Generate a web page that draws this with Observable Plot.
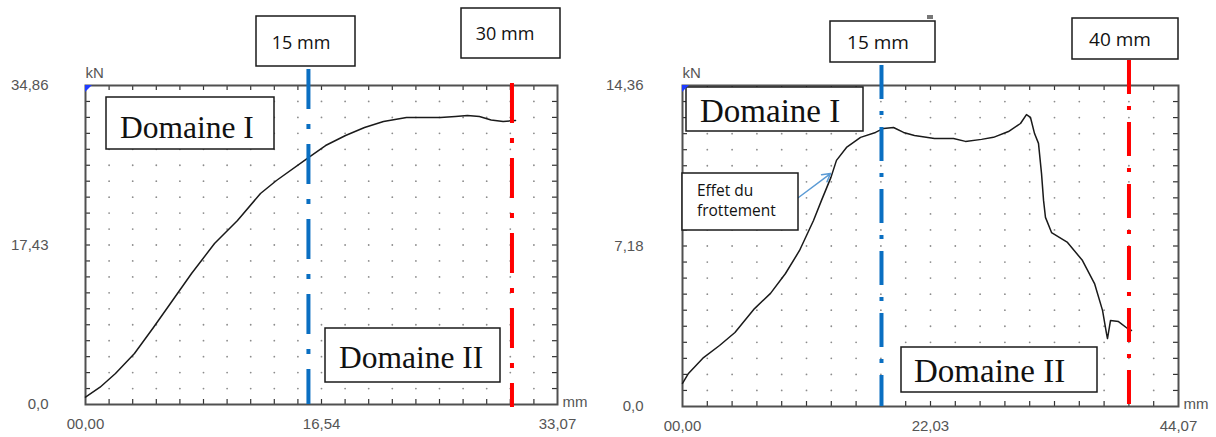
<!DOCTYPE html>
<html><head><meta charset="utf-8">
<script src="https://cdn.jsdelivr.net/npm/d3@7"></script>
<script src="https://cdn.jsdelivr.net/npm/@observablehq/plot@0.6"></script>
<style>
body{margin:0;background:#fff;}
#wrap{position:relative;width:1216px;height:437px;overflow:hidden;background:#fff;}
#left,#right{position:absolute;top:0;}
#left{left:0;} #right{left:600px;}
#ann{position:absolute;left:0;top:0;pointer-events:none;}
</style></head><body>
<div id="wrap"><div id="left"></div><div id="right"></div>
<svg id="ann" width="1216" height="437"></svg></div>
<script>
// ---------- Left test (domain 0–33.07 mm, 0–34.86 kN) ----------
const leftXMax = 33.07;
const leftYMax = 34.86;
const leftXTicks = [0, 16.54, 33.07];
const leftXTickLabels = ["00,00", "16,54", "33,07"];
const leftYTicks = [0, 17.43, 34.86];
const leftYTickLabels = ["0,0", "17,43", "34,86"];
const leftDisp = [0, 1.02, 2.10, 3.43, 4.76, 5.85, 7.43, 9.04, 10.65, 12.26, 13.38, 15.62, 16.82, 18.22, 19.55, 20.88, 22.49, 23.70, 24.87, 25.92, 26.76, 27.60, 28.42, 29.26, 30.13];
const leftLoad = [0.80, 1.89, 3.39, 5.57, 8.41, 10.82, 14.32, 17.59, 20.11, 23.06, 24.48, 26.99, 28.30, 29.40, 30.27, 30.93, 31.36, 31.36, 31.36, 31.47, 31.58, 31.47, 31.10, 30.93, 31.04];
const leftMarkers = [15.62, 29.88];
const leftMarkerLabels = ["15 mm", "30 mm"];

// ---------- Right test (domain 0–44.07 mm, 0–14.36 kN) ----------
const rightXMax = 44.07;
const rightYMax = 14.36;
const rightXTicks = [0, 22.03, 44.07];
const rightXTickLabels = ["00,00", "22,03", "44,07"];
const rightYTicks = [0, 7.18, 14.36];
const rightYTickLabels = ["0,0", "7,18", "14,36"];
const rightDisp = [0, 0.53, 1.87, 3.29, 4.66, 6.40, 7.82, 9.15, 10.40, 11.64, 12.35, 13.19, 13.68, 14.57, 15.82, 17.15, 17.86, 18.75, 19.64, 20.61, 22.39, 24.08, 25.14, 26.57, 27.63, 28.96, 30.03, 30.56, 30.92, 31.28, 31.63, 31.90, 32.08, 32.25, 32.79, 34.21, 35.54, 36.61, 37.32, 37.67, 37.76, 38.03, 38.74, 39.54, 39.89];
const rightLoad = [1.03, 1.48, 2.19, 2.73, 3.31, 4.38, 5.06, 5.95, 6.98, 8.32, 9.22, 10.25, 11.01, 11.59, 12.04, 12.26, 12.44, 12.48, 12.26, 12.12, 11.99, 11.99, 11.86, 11.95, 12.04, 12.30, 12.66, 13.06, 12.93, 12.21, 11.77, 10.42, 9.22, 8.46, 7.78, 7.34, 6.53, 5.50, 4.30, 3.27, 3.04, 3.85, 3.80, 3.49, 3.40];
const rightMarkers = [17.68, 39.67];
const rightMarkerLabels = ["15 mm", "40 mm"];
const frictionArrowFrom = [10.31, 9.35];
const frictionArrowTo = [13.15, 10.42];

const blue = "#0a6fc2", red = "#ff0000";

function chart(o) {
  const H = 437, mT = 85;
  const pw = o.width - o.mL - o.mR, ph = H - mT - o.mB;
  const xInner = d3.range(1, 20).map(i => i * o.xMax / 20);
  const yInner = d3.range(1, 20).map(i => i * o.yMax / 20);
  const grid = [];
  for (const x of xInner) for (const y of yInner) grid.push({x, y});
  const tx = o.xMax * 5 / pw, ty = o.yMax * 5 / ph;
  const xl = new Map(o.xTicks.map((v, i) => [v, o.xLabels[i]]));
  const yl = new Map(o.yTicks.map((v, i) => [v, o.yLabels[i]]));
  const pts = o.disp.map((x, i) => ({x, y: o.load[i]}));
  const marks = [
    Plot.dot(grid, {x: "x", y: "y", r: 0.9, fill: "#8c8c8c"}),
    Plot.ruleX(xInner, {x: d => d, y1: o.yMax, y2: o.yMax - ty, stroke: "#333", strokeWidth: 1.2}),
    Plot.ruleX(xInner, {x: d => d, y1: 0, y2: ty, stroke: "#333", strokeWidth: 1.2}),
    Plot.ruleY(yInner, {y: d => d, x1: 0, x2: tx, stroke: "#333", strokeWidth: 1.2}),
    Plot.ruleY(yInner, {y: d => d, x1: o.xMax, x2: o.xMax - tx, stroke: "#333", strokeWidth: 1.2}),
    Plot.frame({stroke: "#505050", strokeWidth: 2}),
    Plot.line(pts, {x: "x", y: "y", stroke: "#1a1a1a", strokeWidth: 1.5}),
    Plot.ruleX([o.markers[0]], {x: d => d, stroke: blue, strokeWidth: 4, strokeDasharray: o.dash, insetTop: o.blueTop}),
    Plot.ruleX([o.markers[1]], {x: d => d, stroke: red, strokeWidth: 4, strokeDasharray: o.dash, insetTop: o.redTop, insetBottom: -3}),
    Plot.axisX(o.xTicks, {tickSize: 0, tickPadding: 14, tickFormat: d => xl.get(d), label: null, fontSize: 15, fill: "#555"}),
    Plot.axisY(o.yTicks, {tickSize: 0, tickPadding: o.yPad, tickFormat: d => yl.get(d), label: null, fontSize: 15, fill: "#555"}),
    Plot.text(["kN"], {frameAnchor: "top-left", text: d => d, textAnchor: "start", lineAnchor: "middle", dy: -12, fontSize: 15, fill: "#555"}),
    Plot.text(["mm"], {frameAnchor: "bottom-right", text: d => d, textAnchor: "start", lineAnchor: "middle", dx: 5, dy: -2, fontSize: 15, fill: "#555"})
  ];
  if (o.arrow) marks.push(Plot.arrow([o.arrow], {x1: d => d[0][0], y1: d => d[0][1], x2: d => d[1][0], y2: d => d[1][1], stroke: "#5b9bd5", strokeWidth: 1.5, headLength: 9}));
  return Plot.plot({
    width: o.width, height: H,
    marginLeft: o.mL, marginRight: o.mR, marginTop: mT, marginBottom: o.mB,
    x: {domain: [0, o.xMax], axis: null},
    y: {domain: [0, o.yMax], axis: null},
    style: {fontFamily: "'Liberation Sans', Arial, sans-serif", fontSize: "15px", color: "#555", background: "transparent", overflow: "visible"},
    marks
  });
}

document.getElementById("left").append(chart({
  width: 600, mL: 85, mR: 43, mB: 33,
  xMax: leftXMax, yMax: leftYMax, xTicks: leftXTicks, xLabels: leftXTickLabels,
  yTicks: leftYTicks, yLabels: leftYTickLabels, disp: leftDisp, load: leftLoad,
  markers: leftMarkers, dash: "40,15,5,15", blueTop: -16, redTop: -2, yPad: 37
}));
document.getElementById("right").append(chart({
  width: 616, mL: 82, mR: 38, mB: 31,
  xMax: rightXMax, yMax: rightYMax, xTicks: rightXTicks, xLabels: rightXTickLabels,
  yTicks: rightYTicks, yLabels: rightYTickLabels, disp: rightDisp, load: rightLoad,
  markers: rightMarkers, dash: "34,12,4,12", blueTop: -20, redTop: -25, yPad: 39,
  arrow: [frictionArrowFrom, frictionArrowTo]
}));

// ---------- Annotation layer (text boxes) ----------
const ann = d3.select("#ann");
const boxes = [
  {x: 256, y: 16, w: 99, h: 50, text: leftMarkerLabels[0], tx: 301, ty: 49, anchor: "middle", font: "'Open Sans', sans-serif", size: 18},
  {x: 461, y: 8, w: 99, h: 50, text: leftMarkerLabels[1], tx: 505, ty: 39.5, anchor: "middle", font: "'Open Sans', sans-serif", size: 18},
  {x: 106, y: 97, w: 168, h: 52, text: "Domaine I", tx: 120, ty: 137.5, anchor: "start", font: "'Liberation Serif', 'Times New Roman', serif", size: 31.5},
  {x: 325, y: 328, w: 175, h: 54, text: "Domaine II", tx: 339, ty: 368, anchor: "start", font: "'Liberation Serif', 'Times New Roman', serif", size: 31.5},
  {x: 830, y: 21, w: 105, h: 41, text: rightMarkerLabels[0], tx: 878, ty: 48.5, anchor: "middle", font: "'Open Sans', sans-serif", size: 19},
  {x: 1072, y: 18, w: 106, h: 41, text: rightMarkerLabels[1], tx: 1120, ty: 46, anchor: "middle", font: "'Open Sans', sans-serif", size: 19},
  {x: 686, y: 87, w: 177, h: 44, text: "Domaine I", tx: 700, ty: 122, anchor: "start", font: "'Liberation Serif', 'Times New Roman', serif", size: 33},
  {x: 901, y: 347, w: 196, h: 45, text: "Domaine II", tx: 914, ty: 381.5, anchor: "start", font: "'Liberation Serif', 'Times New Roman', serif", size: 33}
];
for (const b of boxes) {
  ann.append("rect").attr("x", b.x).attr("y", b.y).attr("width", b.w).attr("height", b.h)
    .attr("fill", "#fff").attr("stroke", "#1a1a1a").attr("stroke-width", 1.5);
  ann.append("text").attr("x", b.tx).attr("y", b.ty).attr("text-anchor", b.anchor)
    .attr("font-family", b.font).attr("font-size", b.size).attr("fill", "#111").text(b.text);
}
// friction note
ann.append("rect").attr("x", 682).attr("y", 173).attr("width", 116).attr("height", 57)
  .attr("fill", "#fff").attr("stroke", "#1a1a1a").attr("stroke-width", 1.5);
ann.append("text").attr("x", 697).attr("y", 195.5).attr("font-family", "'Open Sans', sans-serif").attr("font-size", 15.5).attr("fill", "#111").text("Effet du");
ann.append("text").attr("x", 697).attr("y", 215.5).attr("font-family", "'Open Sans', sans-serif").attr("font-size", 15.5).attr("fill", "#111").text("frottement");
// blue origin corners and small artifact
ann.append("path").attr("d", "M85,85 L92,85 L85,92 Z").attr("fill", "#1f3cff");
ann.append("path").attr("d", "M682,85 L689,85 L682,92 Z").attr("fill", "#1f3cff");
ann.append("rect").attr("x", 927).attr("y", 15).attr("width", 6).attr("height", 4).attr("fill", "#777");
</script>
</body></html>
